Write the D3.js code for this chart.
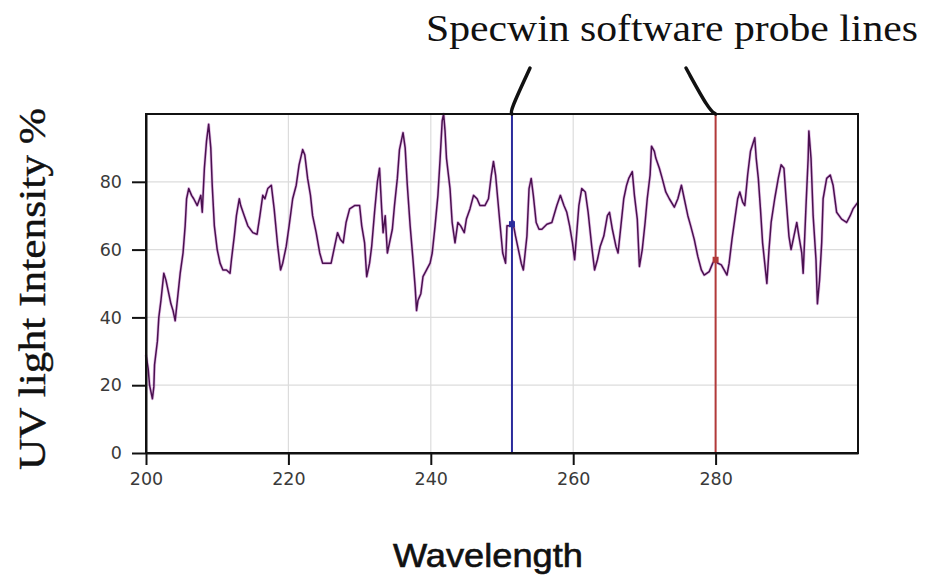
<!DOCTYPE html>
<html>
<head>
<meta charset="utf-8">
<script src="https://cdn.jsdelivr.net/npm/d3@7"></script>
<style>
  html, body { margin: 0; padding: 0; background: #fff; }
  svg { display: block; }
</style>
</head>
<body>
<svg id="chart" width="925" height="575"></svg>
<script>
// UV spectrum trace: wavelength (nm) and intensity (%)
const wavelengths = [
  200.0, 200.3, 200.5, 200.9, 201.1, 201.2, 201.6, 201.8, 202.1, 202.5,
  202.8, 203.2, 203.5, 203.8, 204.1, 204.5, 204.8, 205.2, 205.5, 205.7,
  206.0, 206.4, 206.7, 207.2, 207.7, 207.9, 208.2, 208.5, 208.8, 209.1,
  209.3, 209.6, 210.0, 210.4, 210.8, 211.3, 211.8, 212.0, 212.4, 212.7,
  213.1, 213.3, 213.8, 214.3, 215.0, 215.6, 216.0, 216.4, 216.7, 217.1,
  217.6, 218.0, 218.5, 218.9, 219.2, 219.7, 220.1, 220.6, 221.1, 221.5,
  222.0, 222.3, 222.7, 223.1, 223.4, 223.9, 224.4, 224.8, 225.5, 226.0,
  226.5, 226.9, 227.3, 227.7, 228.1, 228.6, 229.3, 230.0, 230.3, 230.7,
  231.0, 231.4, 231.7, 232.1, 232.5, 232.8, 233.1, 233.3, 233.6, 233.9,
  234.2, 234.6, 234.9, 235.3, 235.6, 236.1, 236.4, 236.7, 237.1, 237.5,
  237.8, 238.0, 238.2, 238.6, 238.9, 239.4, 239.9, 240.2, 240.6, 241.0,
  241.3, 241.6, 241.8, 242.0, 242.2, 242.7, 243.0, 243.4, 243.8, 244.2,
  244.7, 245.0, 245.5, 246.0, 246.5, 246.9, 247.6, 248.1, 248.5, 248.8,
  249.1, 249.4, 249.7, 250.1, 250.5, 250.7, 251.2, 251.5, 251.9, 252.3,
  252.7, 253.0, 253.5, 253.8, 254.1, 254.4, 254.8, 255.2, 255.6, 256.3,
  257.0, 257.7, 258.2, 258.7, 259.1, 259.5, 259.9, 260.2, 260.8, 261.2,
  261.7, 262.1, 262.6, 263.0, 263.4, 263.8, 264.3, 264.8, 265.1, 265.5,
  266.0, 266.3, 266.7, 267.1, 267.5, 267.8, 268.3, 268.6, 269.0, 269.3,
  269.7, 270.1, 270.4, 270.8, 271.0, 271.4, 271.6, 272.1, 272.5, 273.0,
  273.5, 274.2, 274.7, 275.2, 275.6, 276.1, 276.5, 277.0, 277.5, 278.0,
  278.4, 279.1, 279.6, 279.9, 280.3, 280.8, 281.2, 281.6, 281.9, 282.3,
  282.7, 283.1, 283.4, 283.8, 284.1, 284.5, 284.9, 285.2, 285.5, 285.7,
  286.0, 286.3, 286.6, 287.0, 287.2, 287.5, 287.8, 288.3, 288.8, 289.2,
  289.6, 289.9, 290.3, 290.6, 291.0, 291.4, 291.7, 292.1, 292.3, 292.7,
  293.0, 293.1, 293.4, 293.7, 294.1, 294.3, 294.6, 294.9, 295.1, 295.6,
  296.1, 296.5, 297.0, 297.7, 298.4, 298.9, 299.3, 300.0
];
const intensity = [
  29, 25, 20, 16, 19.5, 26, 33, 40, 45, 53,
  51, 47, 44, 42, 39, 47, 53, 59, 67, 75,
  78, 76, 75, 73, 76, 71, 84, 92, 97, 90,
  79, 67, 60, 56, 54, 54, 53, 57, 64, 70,
  75, 73, 70, 67, 65, 64.5, 70, 76, 75, 78,
  79, 72, 61, 54, 56, 61, 67, 75, 79, 85,
  89.5, 88, 81, 76, 70, 65, 59, 56, 56, 56,
  61, 65, 63, 62, 68, 72, 73, 73, 67, 62,
  52, 56, 61, 71, 80, 84, 72, 65, 70, 59,
  62, 66, 73, 81, 89.5, 94.5, 90, 79, 67, 57,
  49, 42, 45, 47, 52, 54, 56, 59, 67, 76,
  86.5, 98, 100, 95, 87, 78, 68, 62, 68, 67,
  65, 69, 72, 76, 75, 73, 73, 75, 82, 86,
  82, 75, 68, 59, 56, 67, 67, 68.5, 64, 60,
  56, 54, 64, 78, 81, 76, 68, 66, 66, 67.5,
  68, 73, 76, 73, 71, 67, 62, 57, 73, 78,
  77, 71, 61, 54, 57, 61, 64, 70, 71, 66,
  61, 59, 67, 75, 79, 81, 83, 76, 69, 55,
  60, 68, 75, 82, 90.5, 89, 87, 84, 81, 77,
  75, 72.5, 75, 79, 75, 70, 67, 63, 58, 54,
  52.5, 53.5, 56, 57, 56, 55.5, 54, 52.5, 56, 63,
  69, 75, 77, 74, 73, 82, 89, 91, 93, 87,
  81, 72, 62, 54, 50, 60, 68, 75, 81, 85,
  84, 75, 64, 60, 64, 68, 64, 59, 53, 73,
  87, 95, 87, 70, 57, 44, 51, 62, 75, 81,
  82, 79, 71, 69, 68, 70, 72, 74
];

// Axis ticks
const xTicks = [200, 220, 240, 260, 280];
const yTicks = [0, 20, 40, 60, 80];

// Probe lines: position (nm), the intensity they read, and colour
const probeWavelengths = [251.4, 280];
const probeReadings = [67.5, 57];
const probeColors = ["#2b2b9c", "#b23a3a"];

// Text
const titleText = "Specwin software probe lines";
const yLabelText = "UV light Intensity %";
const xLabelText = "Wavelength";

const svg = d3.select("#chart");

const plot = { left: 146, top: 114, right: 858, bottom: 453 };

const x = d3.scaleLinear().domain([200, 300]).range([plot.left, plot.right]);
const y = d3.scaleLinear().domain([0, 100]).range([plot.bottom, plot.top]);

// Gridlines
const grid = svg.append("g").attr("stroke", "#dcdcdc").attr("stroke-width", 1.2);
grid.selectAll("line.h").data(yTicks.filter(d => d > 0)).join("line")
  .attr("x1", plot.left).attr("x2", plot.right)
  .attr("y1", d => y(d)).attr("y2", d => y(d));
grid.selectAll("line.v").data(xTicks.filter(d => d > 200)).join("line")
  .attr("y1", plot.top).attr("y2", plot.bottom)
  .attr("x1", d => x(d)).attr("x2", d => x(d));

// Spectrum trace
const pts = wavelengths.map((w, i) => [w, intensity[i]]);
const line = d3.line().x(d => x(d[0])).y(d => y(d[1]));
svg.append("path")
  .datum(pts)
  .attr("fill", "none")
  .attr("stroke", "#c070c8")
  .attr("stroke-width", 3)
  .attr("stroke-opacity", 0.45)
  .attr("stroke-linejoin", "round")
  .attr("d", line);
svg.append("path")
  .datum(pts)
  .attr("fill", "none")
  .attr("stroke", "#4a1050")
  .attr("stroke-width", 1.5)
  .attr("stroke-linejoin", "round")
  .attr("d", line);

// Probe lines with their read-out markers
svg.selectAll("line.probe").data(probeWavelengths).join("line")
  .attr("class", "probe")
  .attr("x1", d => x(d)).attr("x2", d => x(d))
  .attr("y1", plot.top).attr("y2", plot.bottom)
  .attr("stroke", (d, i) => probeColors[i])
  .attr("stroke-width", 2);
svg.selectAll("rect.probe-mark").data(probeWavelengths).join("rect")
  .attr("class", "probe-mark")
  .attr("x", d => x(d) - 3).attr("y", (d, i) => y(probeReadings[i]) - 3)
  .attr("width", 6).attr("height", 6)
  .attr("fill", (d, i) => probeColors[i]);

// Plot frame
svg.append("rect")
  .attr("x", plot.left).attr("y", plot.top)
  .attr("width", plot.right - plot.left).attr("height", plot.bottom - plot.top)
  .attr("fill", "none").attr("stroke", "#111").attr("stroke-width", 2);

// Axes
const xAxis = svg.append("g")
  .attr("transform", `translate(0,${plot.bottom})`)
  .call(d3.axisBottom(x).tickValues(xTicks).tickSize(12).tickSizeOuter(0).tickPadding(8).tickFormat(d3.format("d")));
const yAxis = svg.append("g")
  .attr("transform", `translate(${plot.left},0)`)
  .call(d3.axisLeft(y).tickValues(yTicks).tickSize(14).tickSizeOuter(0).tickPadding(10).tickFormat(d3.format("d")));
[xAxis, yAxis].forEach(g => {
  g.select(".domain").attr("stroke", "#111").attr("stroke-width", 2);
  g.selectAll(".tick line").attr("stroke", "#111").attr("stroke-width", 2);
  g.selectAll(".tick text")
    .attr("fill", "#3a3a3a")
    .style("font-family", "'DejaVu Sans', Verdana, sans-serif")
    .style("font-size", "17.5px");
});

// Title and pointers to the probe lines
svg.append("text")
  .attr("x", 672).attr("y", 41)
  .attr("text-anchor", "middle")
  .attr("textLength", 492).attr("lengthAdjust", "spacingAndGlyphs")
  .style("font-family", "'Liberation Serif', 'Times New Roman', serif")
  .style("font-size", "37px")
  .attr("fill", "#111")
  .text(titleText);

const pointers = [
  [[530, 68], [510, 111], [x(probeWavelengths[0]), plot.top]],
  [[686, 68], [709, 110], [x(probeWavelengths[1]), plot.top]]
];
svg.selectAll("path.pointer").data(pointers).join("path")
  .attr("class", "pointer")
  .attr("d", d3.line().curve(d3.curveBasis))
  .attr("fill", "none")
  .attr("stroke", "#111")
  .attr("stroke-width", 3.5)
  .attr("stroke-linecap", "round");

// Axis titles
svg.append("text")
  .attr("transform", `translate(45,${(108 + 470) / 2}) rotate(-90)`)
  .attr("text-anchor", "middle")
  .attr("textLength", 362).attr("lengthAdjust", "spacingAndGlyphs")
  .style("font-family", "'Liberation Serif', 'Times New Roman', serif")
  .style("font-size", "38px")
  .attr("fill", "#111")
  .attr("stroke", "#111").attr("stroke-width", 0.4)
  .text(yLabelText);

svg.append("text")
  .attr("x", 488).attr("y", 567)
  .attr("text-anchor", "middle")
  .attr("textLength", 190).attr("lengthAdjust", "spacingAndGlyphs")
  .style("font-family", "'Liberation Sans', Arial, sans-serif")
  .style("font-size", "33px")
  .attr("fill", "#111")
  .attr("stroke", "#111").attr("stroke-width", 0.6)
  .text(xLabelText);
</script>
</body>
</html>
